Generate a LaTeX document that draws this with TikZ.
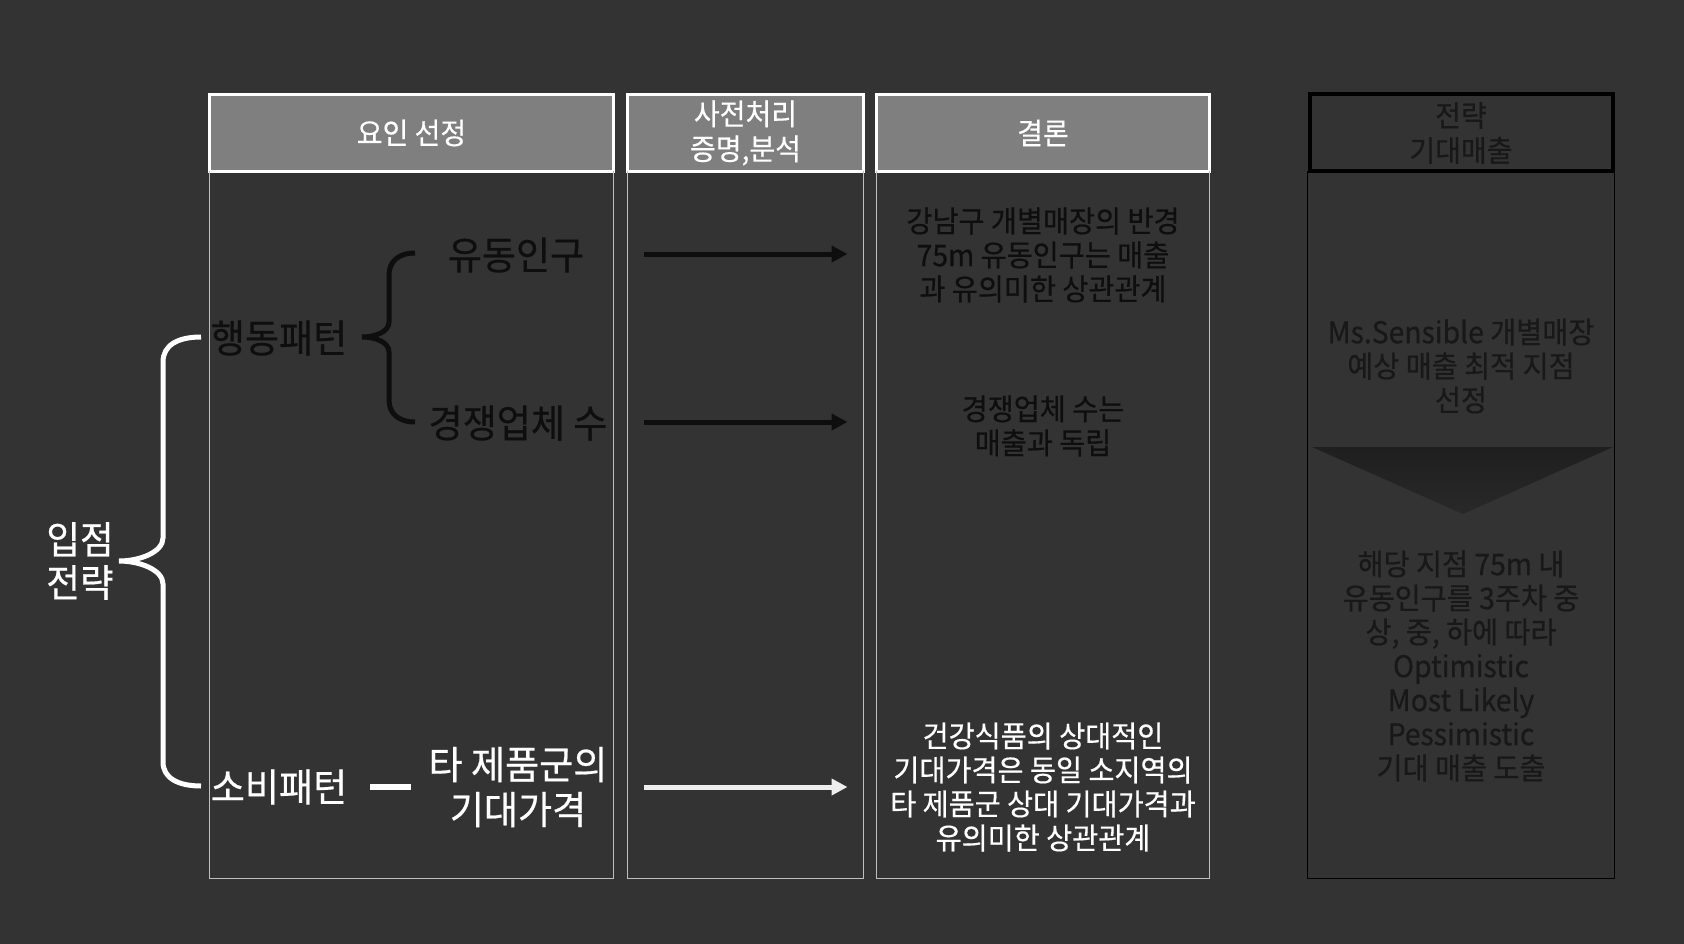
\documentclass[tikz,border=0pt]{standalone}
\usepackage{fontspec}
\setmainfont{Noto Sans CJK KR}[FakeStretch=0.95, FakeBold=0.5]
\usetikzlibrary{positioning, calc, arrows.meta}

\definecolor{bgdark}{HTML}{333333}
\definecolor{hdrgray}{HTML}{7F7F7F}
\definecolor{rulegray}{HTML}{BFBFBF}
\definecolor{inkdark}{HTML}{0E0E0E}
\definecolor{inkdim}{HTML}{181818}
\definecolor{arrowwhite}{HTML}{EEEEEE}

\begin{document}
\begin{tikzpicture}[
    x=1pt, y=-1pt,
    hdr/.style={draw=white, line width=3pt, fill=hdrgray, text=white, inner sep=0pt, outer sep=0pt,
        minimum height=77pt, align=center, font=\fontsize{29.5}{35}\selectfont},
    bodyline/.style={draw=rulegray, line width=1pt},
    big/.style={inner sep=0pt, align=center, font=\fontsize{39}{45}\selectfont},
    note/.style={inner sep=0pt, align=center, font=\fontsize{29.8}{34}\selectfont},
    flowarrow/.style={line width=5pt, -{Triangle[length=16pt, width=16pt]}},
    brace/.style={line width=5pt},
]

\path[use as bounding box, fill=bgdark] (0,0) rectangle (1684,944);

% column headers
\node[hdr, minimum width=404pt, anchor=north west] (hsel) at (209.5,94.5) {요인 선정};
\node[hdr, minimum width=236pt, right=14pt of hsel] (hpre) {사전처리\\증명,분석};
\node[hdr, minimum width=333pt, right=13pt of hpre] (hres) {결론};
\node[hdr, minimum width=303pt, draw=black, line width=4pt, fill=bgdark, text=inkdim, right=100pt of hres] (hexp) {전략\\기대매출};

% column bodies
\draw[bodyline] (hsel.south west) -- ++(0,707) -| (hsel.south east);
\draw[bodyline] (hpre.south west) -- ++(0,707) -| (hpre.south east);
\draw[bodyline] (hres.south west) -- ++(0,707) -| (hres.south east);
\draw[bodyline, draw=black] ($(hexp.south west)+(-2,0)$) -- ++(0,707) -| ($(hexp.south east)+(2,0)$);

% factors
\node[big, text=white, font=\fontsize{38.5}{43}\selectfont] (strat) at (80,561) {입점\\전략};
\node[big, text=inkdark] (act) at (279,338) {행동패턴};
\node[big, text=inkdark] (flow) at (516,255) {유동인구};
\node[big, text=inkdark] (comp) at (518,423) {경쟁업체 수};
\node[big, text=white] (cons) at (279,787) {소비패턴};
\node[big, text=white] (price) at (518,787) {타 제품군의\\기대가격};

\draw[brace, white] (201,337) .. controls (178,337) and (163,345) .. (163,362) -- (163,538)
    .. controls (163,552) and (140,561) .. (119,561) .. controls (140,561) and (163,570) .. (163,584)
    -- (163,762) .. controls (163,778) and (178,786) .. (201,786);
\draw[brace, inkdark] (415,253) .. controls (398,253) and (389,262) .. (389,275) -- (389,322)
    .. controls (389,332) and (375,337) .. (362,337) .. controls (375,337) and (389,342) .. (389,352)
    -- (389,400) .. controls (389,413) and (398,422) .. (415,422);
\draw[line width=6.5pt, white] ($(cons.east)+(23,0)$) -- ($(price.west)+(-17,0)$);

% conclusions
\node[note, text=inkdark] (rflow) at (hres |- flow) {강남구 개별매장의 반경\\75m 유동인구는 매출\\과 유의미한 상관관계};
\node[note, text=inkdark] (rcomp) at ($(hres |- comp)+(0,3)$) {경쟁업체 수는\\매출과 독립};
\node[note, text=white] (rprice) at (hres |- price) {건강식품의 상대적인\\기대가격은 동일 소지역의\\타 제품군 상대 기대가격과\\유의미한 상관관계};

\draw[flowarrow, color=inkdark] ($(hpre.west |- flow)+(16,-1)$) -- ($(hpre.east |- flow)+(-16,-1)$);
\draw[flowarrow, color=inkdark] ($(hpre.west |- comp)+(16,-1)$) -- ($(hpre.east |- comp)+(-16,-1)$);
\draw[flowarrow, color=arrowwhite] ($(hpre.west |- price)+(16,0)$) -- ($(hpre.east |- price)+(-16,0)$);

% expected sales
\node[note, text=inkdim] (site) at (hexp |- 0,366) {Ms.Sensible 개별매장\\예상 매출 최적 지점\\선정};
\shade[top color=black!88, bottom color=black!84] (1312,447) -- (1613,447) -- (1463,514) -- cycle;
\node[note, text=inkdim] (sales) at (hexp |- 0,666) {해당 지점 75m 내\\유동인구를 3주차 중\\상, 중, 하에 따라\\Optimistic\\Most Likely\\Pessimistic\\기대 매출 도출};

\end{tikzpicture}
\end{document}
